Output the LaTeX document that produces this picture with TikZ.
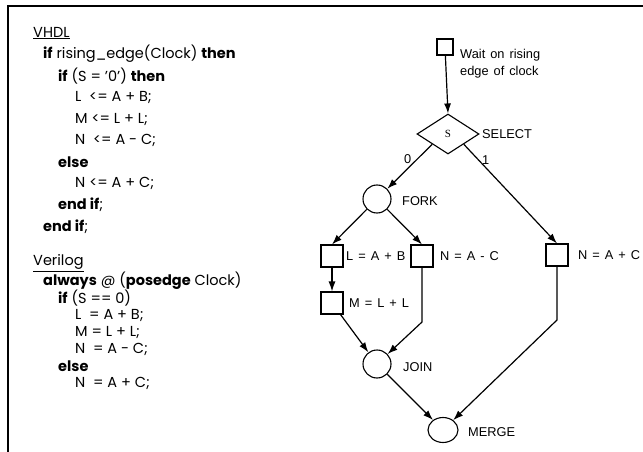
\documentclass[tikz,border=0pt]{standalone}
\usepackage{fontspec}
\setmainfont{Poppins}
\newfontfamily\labfont{Liberation Sans}
\newfontfamily\serfont{Liberation Serif}
\usetikzlibrary{arrows.meta,shapes.geometric}
\newcommand{\lblsize}{\labfont\fontsize{12.8}{14}\selectfont\spaceskip=5pt\relax}
\begin{document}
\begin{tikzpicture}[x=1pt,y=-1pt,
  code/.style={anchor=west,inner sep=0pt,font=\fontsize{14.5}{16}\selectfont},
  lbl/.style={anchor=west,inner sep=0pt,font=\lblsize},
  stepbox/.style={draw,line width=1.1pt,minimum size=22pt,inner sep=0pt},
  waitbox/.style={draw,line width=1.1pt,minimum size=16pt,inner sep=0pt},
  joinc/.style={draw,line width=1.1pt,circle,minimum size=28pt,inner sep=0pt},
  mergec/.style={draw,line width=1.1pt,ellipse,minimum width=30pt,minimum height=25pt,inner sep=0pt},
  sel/.style={draw,line width=1.1pt,diamond,minimum width=62pt,minimum height=40pt,inner sep=0pt,aspect=1.5},
  arr/.style={-{Latex[length=10pt,width=7pt]},line width=1.2pt}]
\useasboundingbox (0,0) rectangle (643,452);
% frame
\coordinate (ftl) at (8,6);
\coordinate (ftr) at (643,6);
\coordinate (fbl) at (8,452);
\draw[line width=2.2pt] (ftr) -- (ftl) -- (fbl);
% VHDL code
\node[code] (v0) at (33,33) {\underline{VHDL}};
\node[code] (v1) at (43,54) {\textbf{if} rising\_edge(Clock) \textbf{then}};
\node[code] (v2) at (58,76) {\textbf{if} (S = '0') \textbf{then}};
\node[code] (v3) at (75,97) {L~~<= A + B;};
\node[code] (v4) at (75,119) {M <= L + L;};
\node[code] (v5) at (75,140) {N~~<= A - C;};
\node[code] (v6) at (58,162) {\textbf{else}};
\node[code] (v7) at (75,183) {N <= A + C;};
\node[code] (v8) at (58,205) {\textbf{end if};};
\node[code] (v9) at (43,227) {\textbf{end if};};
% Verilog code
\node[code] (w0) at (33,263) {\underline{Verilog}};
\node[code] (w1) at (43,281) {\textbf{always} @ (\textbf{posedge} Clock)};
\node[code] (w2) at (58,298) {\textbf{if} (S == 0)};
\node[code] (w3) at (75,315) {L~~= A + B;};
\node[code] (w4) at (75,332) {M = L + L;};
\node[code] (w5) at (75,349) {N~~= A - C;};
\node[code] (w6) at (58,366) {\textbf{else}};
\node[code] (w7) at (75,383) {N~~= A + C;};
% graph
\node[waitbox] (wait) at (445,47) {};
\node[lbl] (waitt1) at (460,55) {Wait on rising};
\node[lbl] (waitt2) at (460,72) {edge of clock};
\node[sel] (s) at (448,134) {\serfont\fontsize{11}{12}\selectfont S};
\node[lbl] (selt) at (482,134) {SELECT};
\node[joinc] (fork) at (377,199) {};
\node[lbl] (forkt) at (402,201) {FORK};
\node[stepbox] (lb) at (332,256) {};
\node[lbl] (lbt) at (346,256) {L = A + B};
\node[stepbox] (nb) at (422,256) {};
\node[lbl] (nbt) at (440,256) {N = A - C};
\node[stepbox] (pb) at (557,255) {};
\node[lbl] (pbt) at (578,255) {N = A + C};
\node[stepbox] (mb) at (332,303) {};
\node[lbl] (mbt) at (349,303) {M = L + L};
\node[joinc] (join) at (377,364) {};
\node[lbl] (joint) at (403,367) {JOIN};
\node[mergec] (merge) at (443,430) {};
\node[lbl] (merget) at (468,432) {MERGE};
\node[lbl] (l0) at (404,159) {0};
\node[lbl] (l1) at (482,160) {1};
\coordinate (nbk) at (422,322);
\coordinate (pbk) at (557,320);
\draw[arr] (wait) -- (s.north);
\draw[arr] (s.south west) -- (fork);
\draw[arr] (s.south east) -- (pb.north);
\draw[arr] (fork) -- (lb.north);
\draw[arr] (fork) -- (nb.north);
\draw[arr] (lb) -- (mb);
\draw[arr] (mb) -- (join);
\draw[arr] (nb) -- (nbk) -- (join);
\draw[arr] (pb) -- (pbk) -- (merge);
\draw[arr] (join) -- (merge);
\end{tikzpicture}
\end{document}
